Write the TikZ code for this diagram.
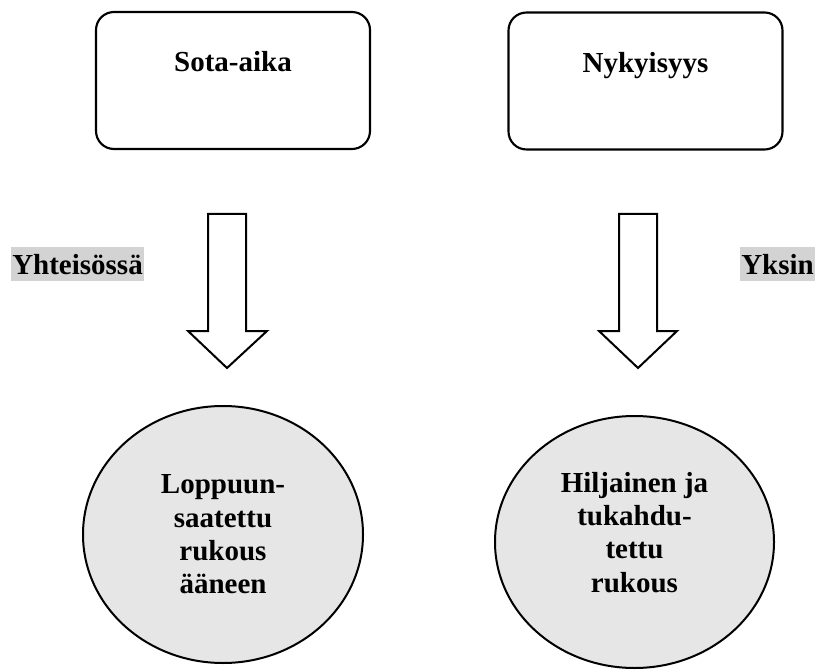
\documentclass[tikz,border=0pt]{standalone}
\usepackage{fontspec}
\setmainfont{Liberation Serif}
\usetikzlibrary{shapes,positioning}
\definecolor{labelgray}{HTML}{D3D3D3}
\definecolor{bubblegray}{HTML}{E6E6E6}
\tikzset{
      period/.style     = {draw, rounded corners=13.5pt, line width=1.6pt, minimum width=205.5pt, minimum height=102.75pt, text height=20pt, text depth=32.75pt},
      mode/.style       = {fill=labelgray, anchor=west, inner xsep=0.75pt, inner ysep=0pt, text height=20.25pt, text depth=5.25pt},
      prayer/.style     = {ellipse, draw, fill=bubblegray, line width=1.5pt, align=center, inner sep=0pt},
      blockarrow/.style = {draw, line width=1.5pt, line join=miter},
    }

\begin{document}
\begin{tikzpicture}[x=0.75pt,y=-0.75pt,font=\fontsize{21.75}{25}\selectfont\bfseries]
          \useasboundingbox (0,0) rectangle (817,670);
          \node [period] (sota) at (233,80.5) {Sota-aika};
          \node [period] (nyky) at (645.5,81) {Nykyisyys};

          \node [mode] (yht) at (11,264) {Yhteisössä};
          \node [mode] (yks) at (740,264) {Yksin};

          \node [prayer, minimum width=210pt, minimum height=192.75pt] (aaneen) at (223,534.5)
                {Loppuun-\\saatettu\\rukous\\ääneen};
          \node [prayer, minimum width=209.25pt, minimum height=189pt, text depth=15pt] (hiljaa) at (634.5,542)
                {Hiljainen ja\\tukahdu-\\tettu\\rukous};

          % block arrows
          \draw[blockarrow] (208,214) -- (246,214) -- (246,331) -- (267,331) -- (227,368)
                -- (188,331) -- (208,331) -- cycle;
          \draw[blockarrow] (619,214) -- (657,214) -- (657,331) -- (677,331) -- (638,368)
                -- (599,331) -- (619,331) -- cycle;
\end{tikzpicture}
\end{document}
